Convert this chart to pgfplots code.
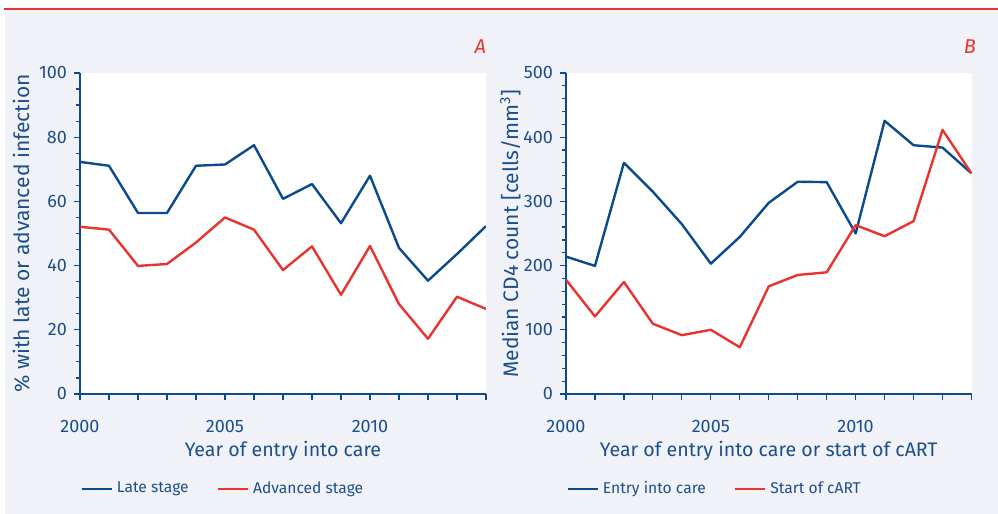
\documentclass[border=0pt]{standalone}
\usepackage{pgfplots}
\pgfplotsset{compat=1.18}
\usepackage{fontspec}
\setmainfont{Fira Sans}
\definecolor{bg}{HTML}{F0F2F7}
\definecolor{dblue}{HTML}{0B4A8B}
\definecolor{txtblue}{HTML}{1C4F8C}
\definecolor{lred}{HTML}{E8332E}

\pgfplotsset{
  panel/.style={
    scale only axis, width=203pt, height=160.5pt,
    anchor=origin,
    axis x line*=bottom, axis y line*=left,
    axis line style={-, dblue, line width=0.8pt},
    axis background/.style={fill=white},
    tick align=outside, major tick length=3pt, minor tick length=2pt,
    tick style={dblue, line width=0.6pt},
    xmin=2000, xmax=2014, ymin=0,
    xtick={2000,...,2014},
    xticklabels={2000,,,,,2005,,,,,2010,,,,},
    ticklabel style={font=\fontsize{9}{10}\selectfont, text=txtblue},
    xticklabel style={yshift=-6.5pt},
    /pgf/number format/assume math mode=true,
    /pgf/number format/1000 sep={},
    xlabel style={font=\fontsize{9.8}{11}\selectfont, text=txtblue,
      at={(axis description cs:0.5,-0.196)}, anchor=base},
    ylabel style={font=\fontsize{10.5}{12}\selectfont, text=txtblue, anchor=base},
    legend style={draw=none, fill=none, inner sep=0pt,
      at={(axis description cs:0,-0.296)}, anchor=west,
      font=\fontsize{7.8}{9}\selectfont, text=txtblue,
      /tikz/every even column/.append style={column sep=12pt}},
    legend columns=2,
    legend image code/.code={\draw[#1, line width=1.3pt] (0pt,0pt) -- (15pt,0pt);},
    every axis plot/.append style={line width=1.2pt, line join=round},
  }
}

\begin{document}
\begin{tikzpicture}
\useasboundingbox (0,0) rectangle (499pt,257pt);
\fill[white] (0,0) rectangle (499pt,257pt);
\fill[bg] (2.5pt,0) rectangle (499pt,252pt);
\draw[lred, line width=1pt] (2pt,252.4pt) -- (499pt,252.4pt);

\begin{axis}[panel, at={(40pt,60pt)},
  ymax=100, ytick={0,20,...,100}, minor ytick={0,5,...,100},
  xlabel={Year of entry into care},
  ylabel={\% with late or advanced infection},
  ylabel style={at={(axis description cs:-0.1256,0.5)}},
]
\addplot[dblue] coordinates {(2000,72.3) (2001,71.1) (2002,56.4) (2003,56.4) (2004,71.1) (2005,71.5) (2006,77.5) (2007,60.8) (2008,65.4) (2009,53.2) (2010,68.0) (2011,45.5) (2012,35.3) (2013,43.6) (2014,52.3)};
\addlegendentry{Late stage}
\addplot[lred] coordinates {(2000,52.1) (2001,51.2) (2002,39.9) (2003,40.5) (2004,47.2) (2005,55.0) (2006,51.2) (2007,38.6) (2008,46.0) (2009,30.9) (2010,46.1) (2011,28.0) (2012,17.2) (2013,30.3) (2014,26.5)};
\addlegendentry{Advanced stage}
\end{axis}
\node[text=lred, font=\fontsize{10}{11}\itshape, anchor=base east] at (246.5pt,230pt) {A};

\begin{axis}[panel, at={(283pt,60pt)}, width=202.75pt,
  ymax=500, ytick={0,100,...,500}, minor ytick={0,20,...,500},
  xlabel={Year of entry into care or start of cART},
  ylabel={Median CD4 count [cells/mm\textsuperscript{3}]},
  ylabel style={at={(axis description cs:-0.118,0.5)}},
]
\addplot[dblue] coordinates {(2000,214) (2001,199.5) (2002,360) (2003,315) (2004,264.5) (2005,203) (2006,244.7) (2007,297.8) (2008,330.6) (2009,330) (2010,250) (2011,425.5) (2012,387.5) (2013,383.8) (2014,343.7)};
\addlegendentry{Entry into care}
\addplot[lred] coordinates {(2000,178) (2001,120.8) (2002,174.5) (2003,109.4) (2004,91.6) (2005,100) (2006,72.8) (2007,167.7) (2008,185.4) (2009,189.5) (2010,263) (2011,245.8) (2012,269.2) (2013,411.4) (2014,343.7)};
\addlegendentry{Start of cART}
\end{axis}
\node[text=lred, font=\fontsize{10}{11}\itshape, anchor=base east] at (491.5pt,230pt) {B};
\end{tikzpicture}
\end{document}
